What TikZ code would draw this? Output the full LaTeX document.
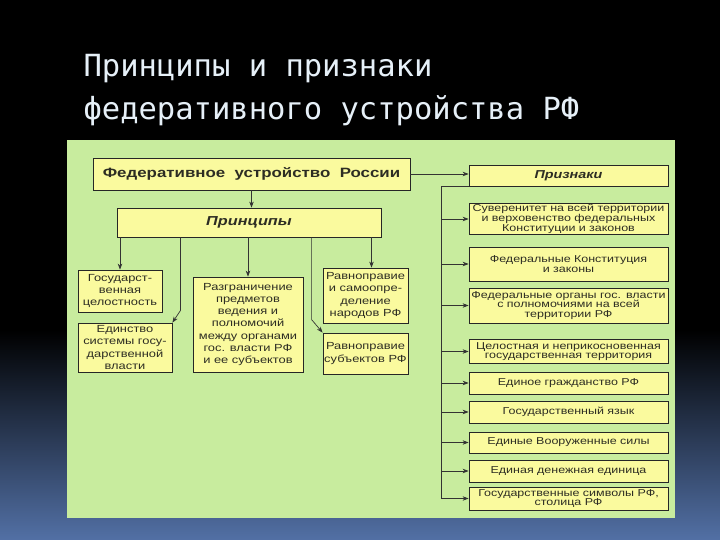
\documentclass[tikz,border=0pt]{standalone}
\usepackage{fontspec}
\setmainfont{Liberation Sans}
\newfontfamily\shirokij[FakeStretch=1.25]{Liberation Sans}
\newfontfamily\titulfont{DejaVu Sans Mono}
\usepackage{tikz}
\usetikzlibrary{arrows.meta, positioning, calc}
\definecolor{fonsinij}{RGB}{82,112,165}
\definecolor{zelenyj}{RGB}{200,236,158}
\definecolor{zheltyj}{RGB}{250,250,158}
\definecolor{tekst}{RGB}{45,45,35}
\definecolor{titul}{RGB}{230,240,248}

\begin{document}
\begin{tikzpicture}[x=1pt, y=-1pt, >={Stealth[length=6pt, width=4.5pt]},
      blk/.style={draw=black!85, line width=0.8pt, fill=zheltyj, text=tekst,
                  align=center, inner sep=1pt,
                  font=\shirokij\fontsize{10.3}{12.3}\selectfont},
      prz/.style={blk, minimum width=199pt, text width=197pt,
                  font=\shirokij\fontsize{10}{9.8}\selectfont},
      lin/.style={draw=black!80, line width=0.7pt},
      zagl/.style={anchor=base west, text=titul,
                   font=\titulfont\fontsize{30.5}{36}\selectfont}]

    % fon
    \useasboundingbox (0,0) rectangle (720,540);
    \fill[black] (0,0) rectangle (720,540);
    \shade[top color=black, bottom color=fonsinij] (0,330) rectangle (720,540);
    \fill[zelenyj] (67,140) rectangle (675,518);

    % zagolovok
    \node[zagl] (t1) at (80,77) {Принципы и признаки};
    \node[zagl] (t2) at (80,120) {федеративного устройства РФ};

    % levaja chast
    \node[blk, minimum width=317pt, minimum height=32pt,
          font=\shirokij\bfseries\fontsize{13.5}{15}\selectfont] (fed) at (251.5,174)
          {Федеративное\ \ устройство\ \ России};
    \node[blk, minimum width=264pt, minimum height=29pt,
          font=\shirokij\bfseries\itshape\fontsize{13}{15}\selectfont] (princ) at (249,222.5)
          {Принципы};
    \node[blk, minimum width=84pt, minimum height=42pt] (gos) at (120,291)
          {Государст-\\венная\\целостность};
    \node[blk, minimum width=94pt, minimum height=49pt] (edin) at (125,347.5)
          {Единство\\системы госу-\\дарственной\\власти};
    \node[blk, minimum width=110pt, minimum height=95pt] (razgr) at (248,324.5)
          {Разграничение\\предметов\\ведения и\\полномочий\\между органами\\гос. власти РФ\\и ее субъектов};
    \node[blk, minimum width=85pt, minimum height=55pt] (ravn1) at (365.5,295.5)
          {Равноправие\\и самоопре-\\деление\\народов РФ};
    \node[blk, minimum width=85pt, minimum height=41pt] (ravn2) at (365.5,353.5)
          {Равноправие\\субъектов РФ};

    \draw[lin, ->] (fed.south) -- (fed.south |- princ.north);
    \draw[lin, ->] (princ.south -| gos.north) -- (gos.north);
    \draw[lin, ->] ([xshift=8pt]edin.north east |- princ.south)
                   -- ([xshift=8pt, yshift=12pt]edin.north east) -- (edin.north east);
    \draw[lin, ->] (princ.south -| razgr.north) -- (razgr.north);
    \draw[lin, ->] ([xshift=-11pt]ravn2.north west |- princ.south)
                   -- ([xshift=-11pt, yshift=13pt]ravn2.north west) -- (ravn2.north west);
    \draw[lin, ->] ([xshift=6pt]ravn1.north |- princ.south) -- ([xshift=6pt]ravn1.north);

    % priznaki
    \node[prz, minimum height=21pt,
          font=\shirokij\bfseries\itshape\fontsize{11.5}{13}\selectfont] (priz) at (568.5,175.5)
          {Признаки};
    \node[prz, minimum height=30pt] (p1) at (568.5,219)
          {Суверенитет на всей территории\\и верховенство федеральных\\Конституции и законов};
    \node[prz, minimum height=34pt] (p2) at (568.5,264)
          {Федеральные Конституция\\и законы};
    \node[prz, minimum height=35pt] (p3) at (568.5,305.5)
          {Федеральные органы гос. власти\\с полномочиями на всей\\территории РФ};
    \node[prz, minimum height=24pt] (p4) at (568.5,351.5)
          {Целостная и неприкосновенная\\государственная территория};
    \node[prz, minimum height=22pt] (p5) at (568.5,383) {Единое гражданство РФ};
    \node[prz, minimum height=22pt] (p6) at (568.5,412) {Государственный язык};
    \node[prz, minimum height=21pt] (p7) at (568.5,442.5) {Единые Вооруженные силы};
    \node[prz, minimum height=22pt] (p8) at (568.5,471) {Единая денежная единица};
    \node[prz, minimum height=23pt] (p9) at (568.5,498.5)
          {Государственные символы РФ,\\столица РФ};

    \draw[lin, ->] (fed.east) -- (fed.east -| priz.west);
    \coordinate (stvol) at ([xshift=-27pt]priz.south west);
    \draw[lin] (priz.south west) -- (stvol) -- (stvol |- p9.west);
    \foreach \p in {p1,p2,p3,p4,p5,p6,p7,p8,p9}
      \draw[lin, ->] (stvol |- \p.west) -- (\p.west);
  \end{tikzpicture}
\end{document}
